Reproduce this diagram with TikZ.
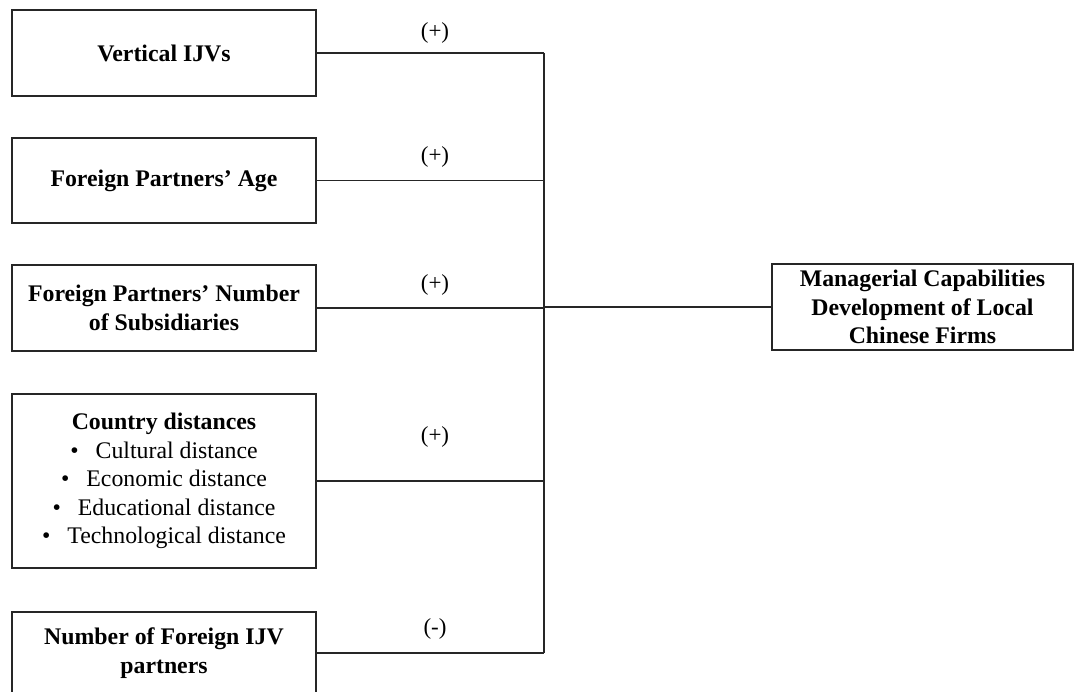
\documentclass[tikz,border=0pt]{standalone}
\usepackage{fontspec}
\setmainfont{Liberation Serif}
\newcommand{\bul}{\mdseries •\hspace{17pt}}
\begin{document}
\begin{tikzpicture}[x=1pt,y=-1pt,
  factor/.style={draw=black!85,line width=1.2pt,rectangle,minimum width=304pt,
    inner sep=0pt,align=center,font=\fontsize{23.8}{28.5}\selectfont\bfseries},
  sign/.style={font=\fontsize{23}{26}\selectfont,inner sep=0pt},
  link/.style={draw=black!85,line width=1.2pt}]
\clip (0,0) rectangle (1075,692);
\fill[white] (0,0) rectangle (1075,692);
\node[factor,minimum height=86pt] (b1) at (164,53) {Vertical IJVs};
\node[factor,minimum height=85pt] (b2) at (164,180.5) {Foreign Partners’ Age};
\node[factor,minimum height=86pt] (b3) at (164,308) {Foreign Partners’ Number\\of Subsidiaries};
\node[factor,minimum height=174pt] (b4) at (164,481) {Country distances\\
  \bul Cultural distance\\
  \bul Economic distance\\
  \bul Educational distance\\
  \bul Technological distance};
\node[factor,minimum height=82pt] (b5) at (164,653) {Number of Foreign IJV\\partners};
\node[factor,minimum width=301pt,minimum height=86pt] (out) at (922.5,307) {Managerial Capabilities\\Development of Local\\Chinese Firms};
\coordinate (jt) at (544,53);
\coordinate (jb) at (544,653);
\draw[link] (jt) -- (jb);
\draw[link] (b1.east) -- (b1.east -| jt);
\draw[link] (b2.east) -- (b2.east -| jt);
\draw[link] (b3.east) -- (b3.east -| jt);
\draw[link] (b4.east) -- (b4.east -| jt);
\draw[link] (b5.east) -- (b5.east -| jt);
\draw[link] (out.west) -- (out.west -| jt);
\node[sign] (s1) at (435,33) {(+)};
\node[sign] (s2) at (435,157) {(+)};
\node[sign] (s3) at (435,285) {(+)};
\node[sign] (s4) at (435,437) {(+)};
\node[sign] (s5) at (435,629) {(-)};
\end{tikzpicture}
\end{document}
